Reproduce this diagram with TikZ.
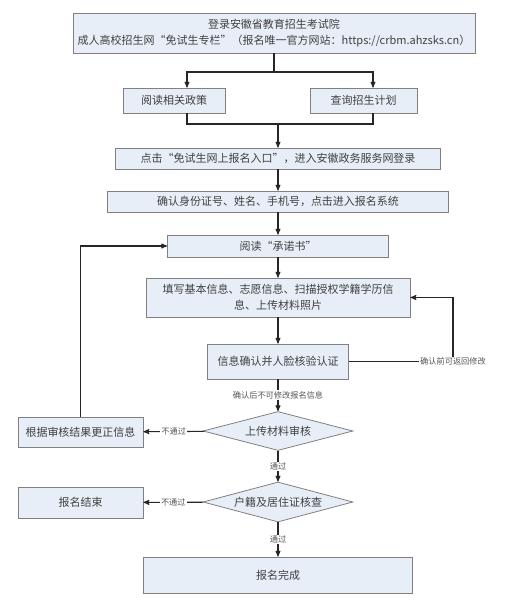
\documentclass[tikz,border=0pt]{standalone}
\usepackage{fontspec}
\setmainfont{Noto Sans CJK SC}
\usetikzlibrary{arrows}
\usetikzlibrary{calc}
\usetikzlibrary{shapes.geometric}

\definecolor{boxfill}{HTML}{E8EEF7}
\definecolor{boxline}{HTML}{808080}
\definecolor{txtgray}{HTML}{404040}
\definecolor{labgray}{HTML}{555555}

\begin{document}
\begin{tikzpicture}[x=1pt,y=-1pt,
  every node/.style={text=txtgray,font=\fontsize{11}{16}\selectfont},
  box/.style={draw=boxline,fill=boxfill,rectangle,line width=0.8pt,inner sep=0pt,align=center},
  check/.style={draw=boxline,fill=boxfill,diamond,aspect=3.8,inner sep=0pt,line width=0.8pt},
  lab/.style={fill=white,inner sep=1pt,text=labgray,font=\fontsize{8.2}{10}\selectfont},
  flow/.style={draw,line width=1.1pt,color=black!85},
  arr/.style={->,>=stealth'}]

  \useasboundingbox (0,0) rectangle (509,603);

  % boxes
  \node [box,minimum width=402,minimum height=40] (login) at (274,33)
    {登录安徽省教育招生考试院\\成人高校招生网“免试生专栏”（报名唯一官方网站：https://crbm.ahzsks.cn）};
  \node [box,minimum width=102,minimum height=25] (policy) at (174,100.5) {阅读相关政策};
  \node [box,minimum width=107,minimum height=25] (plan) at (363.5,100.5) {查询招生计划};
  \node [box,minimum width=325,minimum height=21] (click) at (278,158.5)
    {点击“免试生网上报名入口”，进入安徽政务服务网登录};
  \node [box,minimum width=341,minimum height=21] (idcheck) at (278,201.5)
    {确认身份证号、姓名、手机号，点击进入报名系统};
  \node [box,minimum width=221,minimum height=22] (pledge) at (278,246) {阅读“承诺书”};
  \node [box,minimum width=264,minimum height=39] (fill) at (278,297.5)
    {填写基本信息、志愿信息、扫描授权学籍学历信\\息、上传材料照片};
  \node [box,minimum width=141,minimum height=35] (verify) at (278,361.5) {信息确认并人脸核验认证};
  \node [check,minimum width=150,minimum height=39] (audit) at (278,431) {上传材料审核};
  \node [box,minimum width=125,minimum height=30] (correct) at (80.5,432) {根据审核结果更正信息};
  \node [check,minimum width=150,minimum height=40] (household) at (278,502) {户籍及居住证核查};
  \node [box,minimum width=125,minimum height=31] (quit) at (80.5,502.5) {报名结束};
  \node [box,minimum width=269,minimum height=36] (done) at (278,575) {报名完成};

  \coordinate (split) at (274,72);
  \coordinate (join) at (278,124);
  \coordinate (back) at (453,361.5);

  \path [flow] (login) -- (split);
  \path [flow,arr] (split) -| ([xshift=13]policy.north);
  \path [flow,arr] (split) -| ([xshift=9.5]plan.north);
  \path [flow] ([xshift=13]policy.south) |- (join) -| ([xshift=9.5]plan.south);
  \path [flow,arr] (join) -- (join |- click.north);

  \path [flow]
    (click) edge [arr] (idcheck)
    (idcheck) edge [arr] (pledge)
    (pledge) edge [arr] (fill)
    (fill) edge [arr] (verify)
    (verify) edge [arr] node [lab,midway] {确认后不可修改报名信息} (audit)
    (audit) edge [arr] node [lab,midway] {不通过} (correct)
    (audit) edge [arr] node [lab,midway] {通过} (household)
    (household) edge [arr] node [lab,midway] {不通过} (quit)
    (household) edge [arr] node [lab,midway] {通过} (done);

  \path [flow,arr] (correct.north) |- (pledge.west);
  \path [flow,arr] (verify.east) -- (back) |- (fill.east);
  \node [lab] at (back) {确认前可返回修改};

\end{tikzpicture}
\end{document}
